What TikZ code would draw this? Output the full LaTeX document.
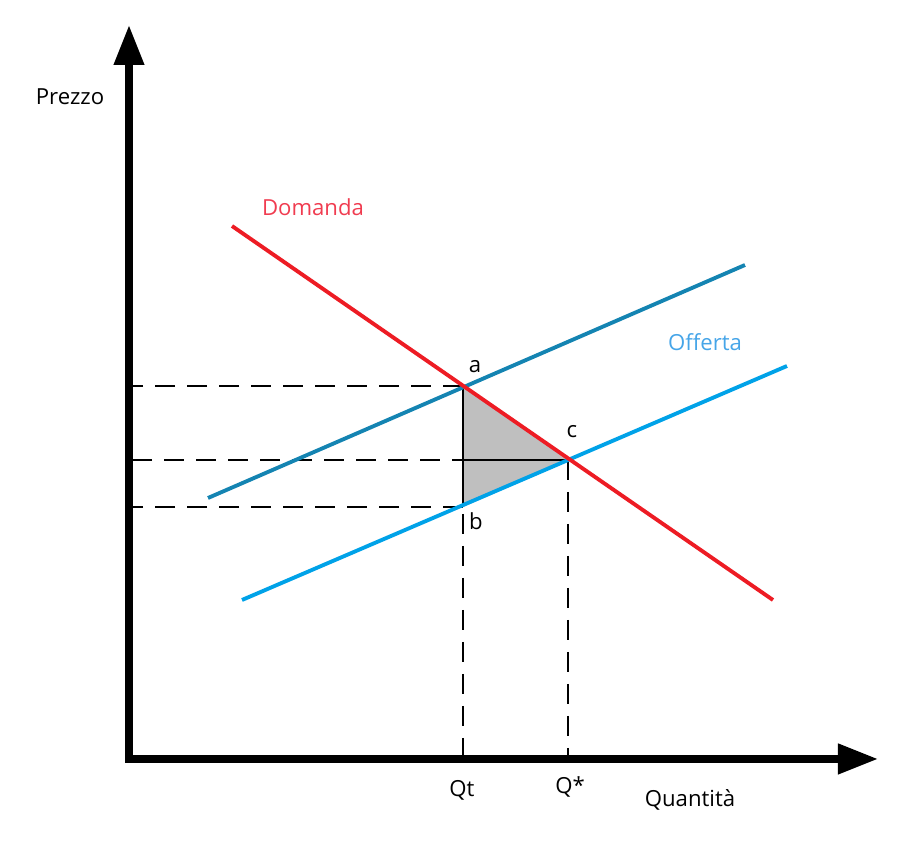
\documentclass[tikz,border=0pt]{standalone}
\usepackage{fontspec}
\setmainfont{Open Sans}
\usetikzlibrary{arrows.meta}
\definecolor{domcol}{RGB}{237,28,36}
\definecolor{offcol}{RGB}{0,162,232}
\definecolor{tascol}{RGB}{20,132,178}
\definecolor{domtxt}{RGB}{240,60,80}
\definecolor{offtxt}{RGB}{70,165,232}
\begin{document}
\begin{tikzpicture}
    [axis/.style={line width=2.1pt,-{Triangle[length=0.4cm,width=0.29cm]}},
     curve/.style={line width=1.1pt},
     guide/.style={line width=0.45pt,dash pattern=on 2mm off 1.2mm},
     lbl/.style={inner sep=1pt,font=\fontsize{6.3}{7}\selectfont}]
    \useasboundingbox (0,0) rectangle (9.05,8.6);
    \coordinate (O) at (1.29,1.01);
    \coordinate (a) at (4.63,4.74);
    \coordinate (b) at (4.63,3.53);
    \coordinate (c) at (5.68,4.00);
    % deadweight triangle
    \fill [black!25] (a) -- (b) -- (c) -- cycle;
    % guides
    \draw [guide] (a) -- (a -| O);
    \draw [guide] (c) -- (c -| O);
    \draw [guide] (b) -- (b -| O);
    \draw [guide] (a) -- (a |- O);
    \draw [guide] (c) -- (c |- O);
    \draw [line width=0.45pt] (a) -- (b);
    \draw [line width=0.45pt] (c) -- (c -| a);
    % curves
    \coordinate (D1) at (2.32,6.34);
    \coordinate (D2) at (7.73,2.60);
    \coordinate (T1) at (2.08,3.62);
    \coordinate (T2) at (7.45,5.95);
    \coordinate (S1) at (2.42,2.60);
    \coordinate (S2) at (7.87,4.94);
    \draw [curve,tascol] (T1) -- (T2);
    \draw [curve,offcol] (S1) -- (S2);
    \draw [curve,domcol] (D1) -- (D2);
    % axes
    \coordinate (Ytip) at (1.29,8.35);
    \coordinate (Xtip) at (8.78,1.01);
    \draw [axis] ([xshift=-1pt]O) -- (Xtip);
    \draw [axis] ([yshift=-1pt]O) -- (Ytip);
    % labels
    \node [lbl] (prezzo) at (0.70,7.63) {Prezzo};
    \node [lbl] (quant) at (6.90,0.60) {Quantità};
    \node [lbl] (qt) at (4.62,0.70) {Qt};
    \node [lbl] (qstar) at (5.70,0.73) {Q*};
    \node [lbl,text=domtxt] (dom) at (3.13,6.53) {Domanda};
    \node [lbl,text=offtxt] (off) at (7.05,5.18) {Offerta};
    \node [lbl] (la) at (4.75,4.93) {a};
    \node [lbl] (lb) at (4.76,3.39) {b};
    \node [lbl] (lc) at (5.72,4.28) {c};
  \end{tikzpicture}
\end{document}
